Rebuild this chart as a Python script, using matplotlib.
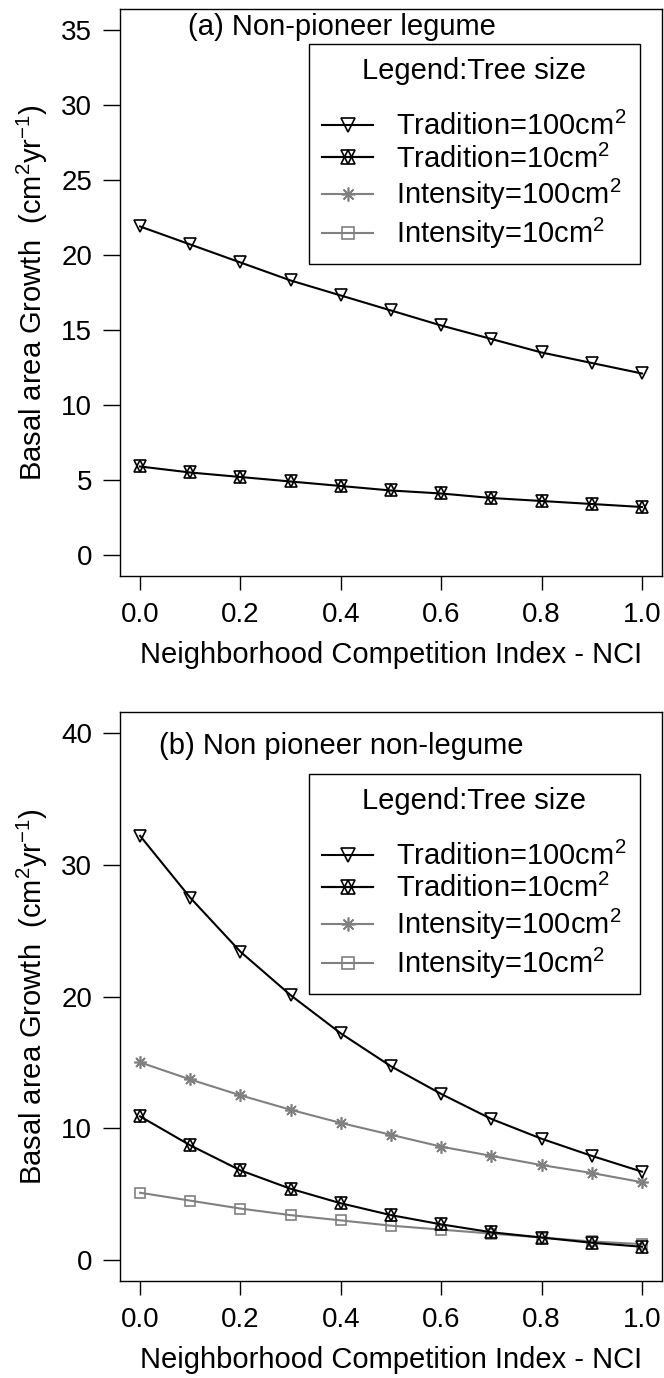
import matplotlib
matplotlib.use("Agg")
import matplotlib.pyplot as plt
from matplotlib.lines import Line2D

plt.rcParams['font.family'] = ['Liberation Sans', 'DejaVu Sans']
plt.rcParams['mathtext.default'] = 'regular'

# NCI values
nci = [0.0, 0.1, 0.2, 0.3, 0.4, 0.5, 0.6, 0.7, 0.8, 0.9, 1.0]

# (a) Non-pioneer legume
a_trad100 = [21.9, 20.7, 19.5, 18.3, 17.3, 16.3, 15.3, 14.4, 13.5, 12.8, 12.1]
a_trad10 = [5.9, 5.5, 5.2, 4.9, 4.6, 4.3, 4.1, 3.8, 3.6, 3.4, 3.2]

# (b) Non pioneer non-legume
b_trad100 = [32.2, 27.5, 23.4, 20.1, 17.2, 14.7, 12.6, 10.7, 9.2, 7.9, 6.7]
b_trad10 = [10.9, 8.7, 6.8, 5.4, 4.3, 3.4, 2.7, 2.1, 1.7, 1.3, 1.0]
b_int100 = [15.0, 13.7, 12.5, 11.4, 10.4, 9.5, 8.6, 7.9, 7.2, 6.6, 5.9]
b_int10 = [5.1, 4.5, 3.9, 3.4, 3.0, 2.6, 2.3, 2.0, 1.7, 1.4, 1.2]

labels = ["Tradition=100cm$^2$", "Tradition=10cm$^2$",
          "Intensity=100cm$^2$", "Intensity=10cm$^2$"]
xticks = [0.0, 0.2, 0.4, 0.6, 0.8, 1.0]

BLACK = "black"
GRAY = "#808080"
FS = 21
TFS = 20
lw = 1.5
ms = 9
mew = 1.2


def trad100(ax, y):
    ax.plot(nci, y, color=BLACK, lw=lw, marker='v', ms=ms, mfc='none',
            mec=BLACK, mew=mew)


def trad10(ax, y):
    ax.plot(nci, y, color=BLACK, lw=lw, marker='v', ms=ms, mfc='none',
            mec=BLACK, mew=mew)
    ax.plot(nci, y, color=BLACK, lw=0, marker='^', ms=ms, mfc='none',
            mec=BLACK, mew=mew)


def int100(ax, y):
    ax.plot(nci, y, color=GRAY, lw=lw, marker=(8, 2, 0), ms=ms, mec=GRAY,
            mew=mew)


def int10(ax, y):
    ax.plot(nci, y, color=GRAY, lw=lw, marker='s', ms=7, mfc='none',
            mec=GRAY, mew=mew)


def legend(ax, top):
    lms = 10
    h1 = Line2D([], [], color=BLACK, lw=lw, marker='v', ms=lms, mfc='none', mew=mew)
    h2a = Line2D([], [], color=BLACK, lw=lw, marker='v', ms=lms, mfc='none', mew=mew)
    h2b = Line2D([], [], color=BLACK, lw=lw, marker='^', ms=lms, mfc='none', mew=mew)
    h3 = Line2D([], [], color=GRAY, lw=lw, marker=(8, 2, 0), ms=lms, mec=GRAY, mew=mew)
    h4 = Line2D([], [], color=GRAY, lw=lw, marker='s', ms=8, mfc='none', mec=GRAY, mew=mew)
    leg = ax.legend([h1, (h2a, h2b), h3, h4], labels, loc='upper right',
                    bbox_to_anchor=(0.959, top), title="Legend:Tree size",
                    fontsize=FS, title_fontsize=FS, frameon=True,
                    fancybox=False, edgecolor=BLACK, framealpha=1,
                    handlelength=1.75, handletextpad=0.8, labelspacing=0.12,
                    borderpad=0.45, borderaxespad=0)
    leg.get_frame().set_linewidth(1.0)
    leg._legend_box.sep = 19


def style(ax, ylim, yticks):
    ax.set_xlim(-0.04, 1.04)
    ax.set_ylim(*ylim)
    ax.set_xticks(xticks)
    ax.set_xticklabels(["%.1f" % v for v in xticks])
    ax.set_yticks(yticks)
    ax.tick_params(labelsize=TFS, length=10, width=1, direction='out', pad=9)
    ax.tick_params(axis='y', length=12, pad=8)
    for s in ax.spines.values():
        s.set_linewidth(1.0)
    ax.set_xlabel("Neighborhood Competition Index - NCI", fontsize=FS, labelpad=9)
    ax.set_ylabel("Basal area Growth  (cm$^{2}$yr$^{-1}$)", fontsize=FS, labelpad=8)


fig = plt.figure(figsize=(6.64, 13.78), dpi=100)
ax1 = fig.add_axes([0.1807, 0.582, 0.8163, 0.4115])
ax2 = fig.add_axes([0.1807, 0.0704, 0.8163, 0.4129])

trad100(ax1, a_trad100)
trad10(ax1, a_trad10)
style(ax1, (-1.4, 36.4), [0, 5, 10, 15, 20, 25, 30, 35])
ax1.text(0.095, 35.2, "(a) Non-pioneer legume", fontsize=FS, va='center')
legend(ax1, 0.938)

int100(ax2, b_int100)
int10(ax2, b_int10)
trad100(ax2, b_trad100)
trad10(ax2, b_trad10)
style(ax2, (-1.6, 41.6), [0, 10, 20, 30, 40])
ax2.text(0.038, 39.0, "(b) Non pioneer non-legume", fontsize=FS, va='center')
legend(ax2, 0.891)

fig.savefig("out.png", dpi=100)
